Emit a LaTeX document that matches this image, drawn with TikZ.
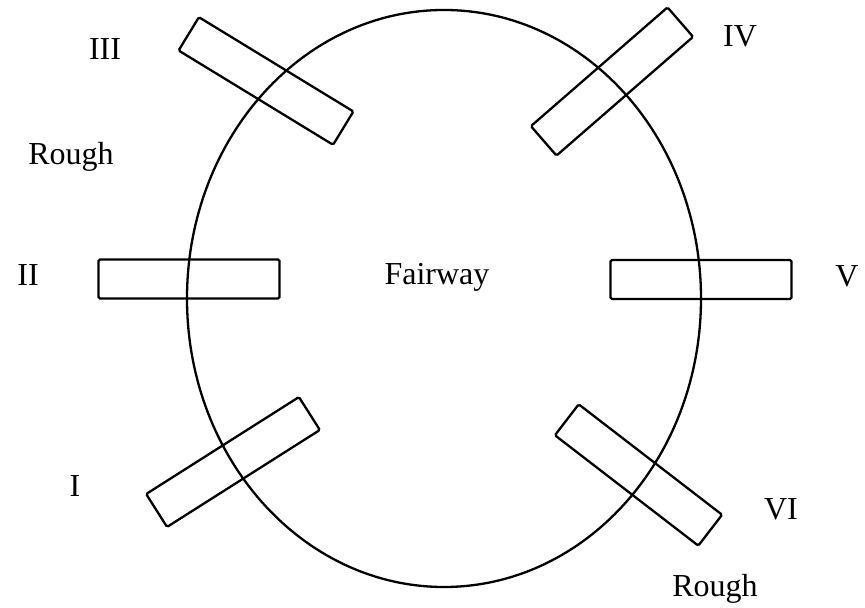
\documentclass[tikz,border=0pt]{standalone}
\usepackage{fontspec}
\setmainfont{Liberation Serif}
\usetikzlibrary{positioning}

\begin{document}
\begin{tikzpicture}[x=1bp, y=1bp, font=\fontsize{32bp}{38bp}\selectfont,
  plank/.style={draw=black, line width=2.3bp, rounded corners=1.5bp, inner sep=0pt, minimum width=181bp, minimum height=39bp},
  lbl/.style={anchor=base, inner sep=0pt},
  field/.style={draw=black, line width=2.3bp}]
\useasboundingbox (0,0) rectangle (865,608);
% fairway
\draw[field] (444,309.5) ellipse [x radius=257bp, y radius=288.5bp];
\node[lbl] (fair) at (437,323) {Fairway};
% planks
\node[plank, rotate=32.4] (p1) at (233,146) {};
\node[plank] (p2) at (189,329) {};
\node[plank, rotate=-31.4] (p3) at (266,527) {};
\node[plank, rotate=41] (p4) at (612,526.5) {};
\node[plank] (p5) at (701,328.5) {};
\node[plank, rotate=-37.6] (p6) at (638.5,133) {};
% labels
\node[lbl] (l1) at (75,111) {I};
\node[lbl] (l2) at (28,322) {II};
\node[lbl] (l3) at (105,548) {III};
\node[lbl] (l4) at (740,561) {IV};
\node[lbl] (l5) at (847,321) {V};
\node[lbl] (l6) at (781,88) {VI};
\node[lbl] (roughl) at (71,443) {Rough};
\node[lbl] (roughb) at (715,11) {Rough};
\end{tikzpicture}
\end{document}
